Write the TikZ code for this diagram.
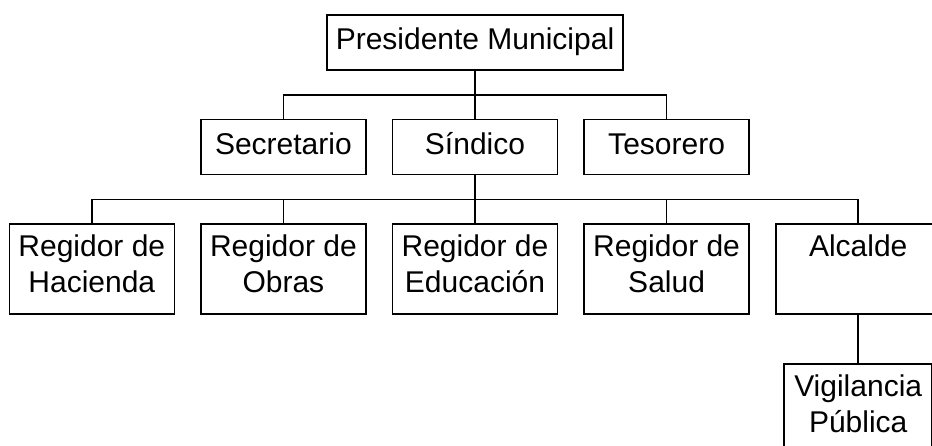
\documentclass[tikz,border=0pt]{standalone}
\usepackage{fontspec}
\setmainfont{Liberation Sans}
\usetikzlibrary{positioning}

\begin{document}
\begin{tikzpicture}[node distance=48pt and 25pt,
	caja/.style={draw, line width=1.6pt, inner sep=0pt, align=center,
		font=\fontsize{30pt}{36pt}\selectfont, minimum width=165pt, minimum height=55pt,
		execute at begin node=\strut, execute at end node=\strut},
	cajaalta/.style={caja, minimum height=90pt},
	linea/.style={line width=1.6pt}]
	\useasboundingbox (0,0) rectangle (932pt,-445pt);
	\node[caja, minimum width=296pt] (pres) at (475pt,-42.5pt) {Presidente Municipal};
	\node[caja, below =of pres] (sind) {Síndico};
		\node[caja, left  =of sind] (secr) {Secretario};
		\node[caja, right =of sind] (teso) {Tesorero};
	\node[cajaalta, below =of sind] (edu) {Regidor de\\Educación};
		\node[cajaalta, left  =of edu] (obr) {Regidor de\\Obras};
		\node[cajaalta, left  =of obr] (hac) {Regidor de\\Hacienda};
		\node[cajaalta, right =of edu] (sal) {Regidor de\\Salud};
		\node[cajaalta, right =of sal] (alc) {Alcalde\\};
	\node[cajaalta, minimum width=148pt, below =of alc] (vig) {Vigilancia\\Pública};
	%\node[below =of vig] (x) {};
	\draw[linea] (pres) -- (sind);
	\foreach \to in {secr,teso}
		\draw[linea] (pres.south) -- ++(0,-24pt) -| (\to.north);
	\draw[linea] (sind) -- (edu);
	\foreach \to in {hac,obr,sal,alc}
		\draw[linea] (sind.south) -- ++(0,-24pt) -| (\to.north);
	\draw[linea] (alc) -- (vig);
\end{tikzpicture}
\end{document}
